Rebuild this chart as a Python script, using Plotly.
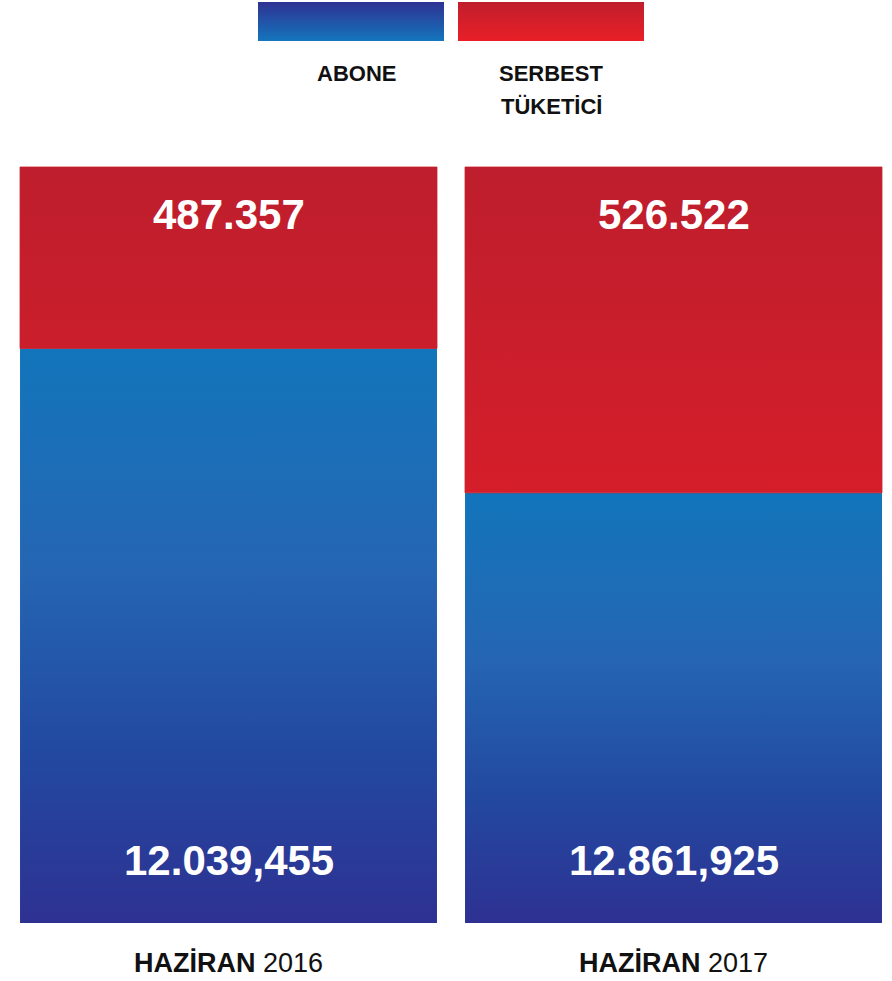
import plotly.graph_objects as go

# ---- data ----
periods = ["2016", "2017"]
period_prefix = ["HAZİRAN", "HAZİRAN"]
abone_labels = ["12.039,455", "12.861,925"]
serbest_labels = ["487.357", "526.522"]
# share of each bar's height (percent) as drawn in the infographic
abone_share = [76.0, 56.9]
serbest_share = [24.0, 43.1]
legend_names = ["ABONE", "SERBEST", "TÜKETİCİ"]

# ---- styling ----
FONT = "Liberation Sans, Arial, Helvetica, sans-serif"
BLUE_SCALE = [[0, "#2e3192"], [0.3, "#2249a0"], [0.62, "#2566b3"], [1, "#1275bb"]]
RED_SCALE = [[0, "#d51e2a"], [1, "#be1e2d"]]
BAR_W = 0.937

W, H = 892, 981


def rect(x0, x1, y0, y1):
    return [x0, x1, x1, x0, x0], [y0, y0, y1, y1, y0]


fig = go.Figure()

# blue (ABONE) segments, each with its own vertical gradient
for i, p in enumerate(periods):
    xs, ys = rect(i - BAR_W / 2, i + BAR_W / 2, 0, abone_share[i])
    fig.add_trace(go.Scatter(
        x=xs, y=ys, mode="lines", fill="toself", line=dict(width=0),
        fillcolor="#2566b3",
        fillgradient=dict(type="vertical", colorscale=BLUE_SCALE,
                          start=0, stop=abone_share[i]),
        hoverinfo="skip", showlegend=False))

# red (SERBEST TÜKETİCİ) segments: one trace, gradient spans both bars
rx, ry = [], []
for i, p in enumerate(periods):
    xs, ys = rect(i - BAR_W / 2, i + BAR_W / 2, abone_share[i],
                  abone_share[i] + serbest_share[i])
    rx += xs + [None]
    ry += ys + [None]
fig.add_trace(go.Scatter(
    x=rx, y=ry, mode="lines", fill="toself", line=dict(width=0.8, color="#c61e2c"),
    fillcolor="#c41e2c",
    fillgradient=dict(type="vertical", colorscale=RED_SCALE),
    hoverinfo="skip", showlegend=False))

# legend swatches on a pixel-space overlay axis (y measured from bottom)
sw_blue = rect(258, 444, H - 41, H - 2)
sw_red = rect(458, 644, H - 41, H - 2)
fig.add_trace(go.Scatter(
    x=sw_blue[0], y=sw_blue[1], xaxis="x2", yaxis="y2", mode="lines",
    fill="toself", line=dict(width=0), fillcolor="#2156a6",
    fillgradient=dict(type="vertical",
                      colorscale=[[0, "#1476bd"], [1, "#2e3192"]]),
    hoverinfo="skip", showlegend=False))
fig.add_trace(go.Scatter(
    x=sw_red[0], y=sw_red[1], xaxis="x2", yaxis="y2", mode="lines",
    fill="toself", line=dict(width=0), fillcolor="#d41f2a",
    fillgradient=dict(type="vertical",
                      colorscale=[[0, "#e91f27"], [1, "#c01e2d"]]),
    hoverinfo="skip", showlegend=False))

ann = []
for i, p in enumerate(periods):
    top = abone_share[i] + serbest_share[i]
    ann.append(dict(x=i, y=top, xref="x", yref="y", text=f"<b>{serbest_labels[i]}</b>",
                    showarrow=False, yanchor="middle", yshift=-47,
                    font=dict(family=FONT, size=42, color="white")))
    ann.append(dict(x=i, y=0, xref="x", yref="y", text=f"<b>{abone_labels[i]}</b>",
                    showarrow=False, yanchor="middle", yshift=63,
                    font=dict(family=FONT, size=42, color="white")))
    ann.append(dict(x=i, y=0, xref="x", yref="y",
                    text=f"<b>{period_prefix[i]}</b> {p}",
                    showarrow=False, yanchor="middle", yshift=-40,
                    font=dict(family=FONT, size=27, color="#111111")))

legend_pos = [(356, 74), (551, 74), (551, 106)]
for name, (px, py) in zip(legend_names, legend_pos):
    ann.append(dict(x=px / W, y=1 - py / H, xref="paper", yref="paper",
                    text=f"<b>{name}</b>", showarrow=False,
                    xanchor="center", yanchor="middle",
                    font=dict(family=FONT, size=22, color="#111111")))

fig.update_layout(
    width=W, height=H,
    margin=dict(l=0, r=0, t=0, b=0),
    paper_bgcolor="white", plot_bgcolor="white",
    showlegend=False,
    annotations=ann,
    xaxis=dict(range=[-0.5135, 1.491], visible=False, fixedrange=True),
    yaxis=dict(range=[-7.672, 122.09], visible=False, fixedrange=True),
    xaxis2=dict(range=[0, W], visible=False, overlaying="x", fixedrange=True),
    yaxis2=dict(range=[0, H], visible=False, overlaying="y", fixedrange=True),
)

fig.write_html(
    "out.html",
    config={"displayModeBar": False},
    post_script="document.body.style.margin='0';document.body.style.overflow='hidden';",
)
